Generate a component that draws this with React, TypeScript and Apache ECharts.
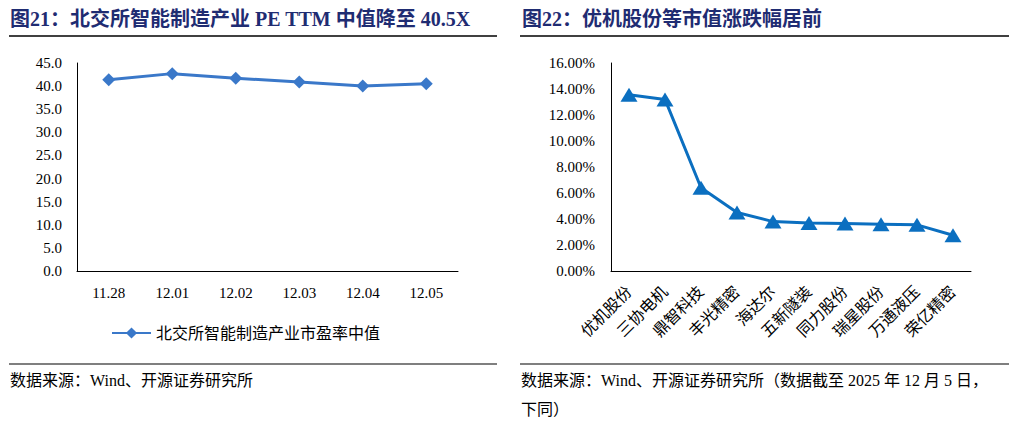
import React, { useEffect, useRef } from "react";
import * as echarts from "echarts";

const leftTitle = "图21：北交所智能制造产业 PE TTM 中值降至 40.5X";
const rightTitle = "图22：优机股份等市值涨跌幅居前";
const leftSource = "数据来源：Wind、开源证券研究所";
const rightSource1 = "数据来源：Wind、开源证券研究所（数据截至 2025 年 12 月 5 日，";
const rightSource2 = "下同）";

const peDates = ["11.28", "12.01", "12.02", "12.03", "12.04", "12.05"];
const peValues = [41.4, 42.7, 41.7, 40.9, 40.0, 40.5];
const peSeriesName = "北交所智能制造产业市盈率中值";

const stockNames = ["优机股份", "三协电机", "鼎智科技", "丰光精密", "海达尔", "五新隧装", "同力股份", "瑞星股份", "万通液压", "荣亿精密"];
const stockChanges = [13.55, 13.2, 6.4, 4.5, 3.8, 3.7, 3.65, 3.6, 3.55, 2.75];

const FONT = '"Liberation Serif", "Noto Sans CJK SC", serif';
const TITLE_COLOR = "#1F2C72";

export default function App() {
  const ref = useRef<HTMLDivElement>(null);
  useEffect(() => {
    const chart = echarts.init(ref.current!, null, { renderer: "svg" });
    const axisCommon = {
      axisLine: { lineStyle: { color: "#000", width: 1 } },
      axisTick: { inside: true, length: 5, lineStyle: { color: "#000" } },
      splitLine: { show: false },
    };
    chart.setOption({
      animation: false,
      backgroundColor: "#fff",
      textStyle: { fontFamily: FONT },
      legend: {
        data: [peSeriesName],
        left: 111,
        top: 325,
        padding: 0,
        itemWidth: 39,
        itemHeight: 14,
        itemGap: 5,
        textStyle: { fontFamily: FONT, fontSize: 16, color: "#000", padding: [0, 0, 0, 0] },
      },
      grid: [
        { left: 77, top: 63, width: 381, height: 208, containLabel: false },
        { left: 611, top: 63, width: 360, height: 208, containLabel: false },
      ],
      xAxis: [
        {
          type: "category",
          gridIndex: 0,
          data: peDates,
          boundaryGap: true,
          ...axisCommon,
          axisLabel: { fontFamily: FONT, fontSize: 15, color: "#000", margin: 14 },
        },
        {
          type: "category",
          gridIndex: 1,
          data: stockNames,
          boundaryGap: true,
          ...axisCommon,
          axisLabel: { fontFamily: FONT, fontSize: 16, color: "#000", rotate: 45, margin: 18, interval: 0 },
        },
      ],
      yAxis: [
        {
          type: "value",
          gridIndex: 0,
          min: 0,
          max: 45,
          interval: 5,
          ...axisCommon,
          axisLine: { show: true, lineStyle: { color: "#000", width: 1 } },
          axisLabel: { fontFamily: FONT, fontSize: 15, color: "#000", margin: 15, formatter: (v: number) => v.toFixed(1) },
        },
        {
          type: "value",
          gridIndex: 1,
          min: 0,
          max: 16,
          interval: 2,
          ...axisCommon,
          axisLine: { show: true, lineStyle: { color: "#000", width: 1 } },
          axisLabel: { fontFamily: FONT, fontSize: 15, color: "#000", margin: 16, formatter: (v: number) => v.toFixed(2) + "%" },
        },
      ],
      series: [
        {
          name: peSeriesName,
          type: "line",
          xAxisIndex: 0,
          yAxisIndex: 0,
          data: peValues,
          symbol: "diamond",
          symbolSize: 13,
          lineStyle: { color: "#3A78C9", width: 3 },
          itemStyle: { color: "#3A78C9" },
        },
        {
          name: "涨跌幅",
          type: "line",
          xAxisIndex: 1,
          yAxisIndex: 1,
          data: stockChanges,
          symbol: "triangle",
          symbolSize: [17, 14],
          lineStyle: { color: "#0B6FC0", width: 3 },
          itemStyle: { color: "#0B6FC0" },
        },
      ],
      graphic: [
        { type: "text", left: 10, top: 9, style: { text: leftTitle, font: `bold 20px ${FONT}`, fill: TITLE_COLOR } },
        { type: "text", left: 522, top: 9, style: { text: rightTitle, font: `bold 20px ${FONT}`, fill: TITLE_COLOR } },
        { type: "line", shape: { x1: 9, y1: 36, x2: 497, y2: 36 }, style: { stroke: "#000", lineWidth: 1.5 } },
        { type: "line", shape: { x1: 520, y1: 36, x2: 1009, y2: 36 }, style: { stroke: "#000", lineWidth: 1.5 } },
        { type: "line", shape: { x1: 9, y1: 364, x2: 497, y2: 364 }, style: { stroke: "#000", lineWidth: 1.2 } },
        { type: "line", shape: { x1: 520, y1: 364, x2: 1009, y2: 364 }, style: { stroke: "#000", lineWidth: 1.2 } },
        { type: "text", left: 10, top: 372, style: { text: leftSource, font: `16px ${FONT}`, fill: "#000" } },
        { type: "text", left: 521, top: 372, style: { text: rightSource1, font: `16px ${FONT}`, fill: "#000" } },
        { type: "text", left: 521, top: 401, style: { text: rightSource2, font: `16px ${FONT}`, fill: "#000" } },
      ],
    });
    return () => chart.dispose();
  }, []);
  return <div ref={ref} style={{ position: "fixed", left: 0, top: 0, width: 1025, height: 426 }} />;
}
